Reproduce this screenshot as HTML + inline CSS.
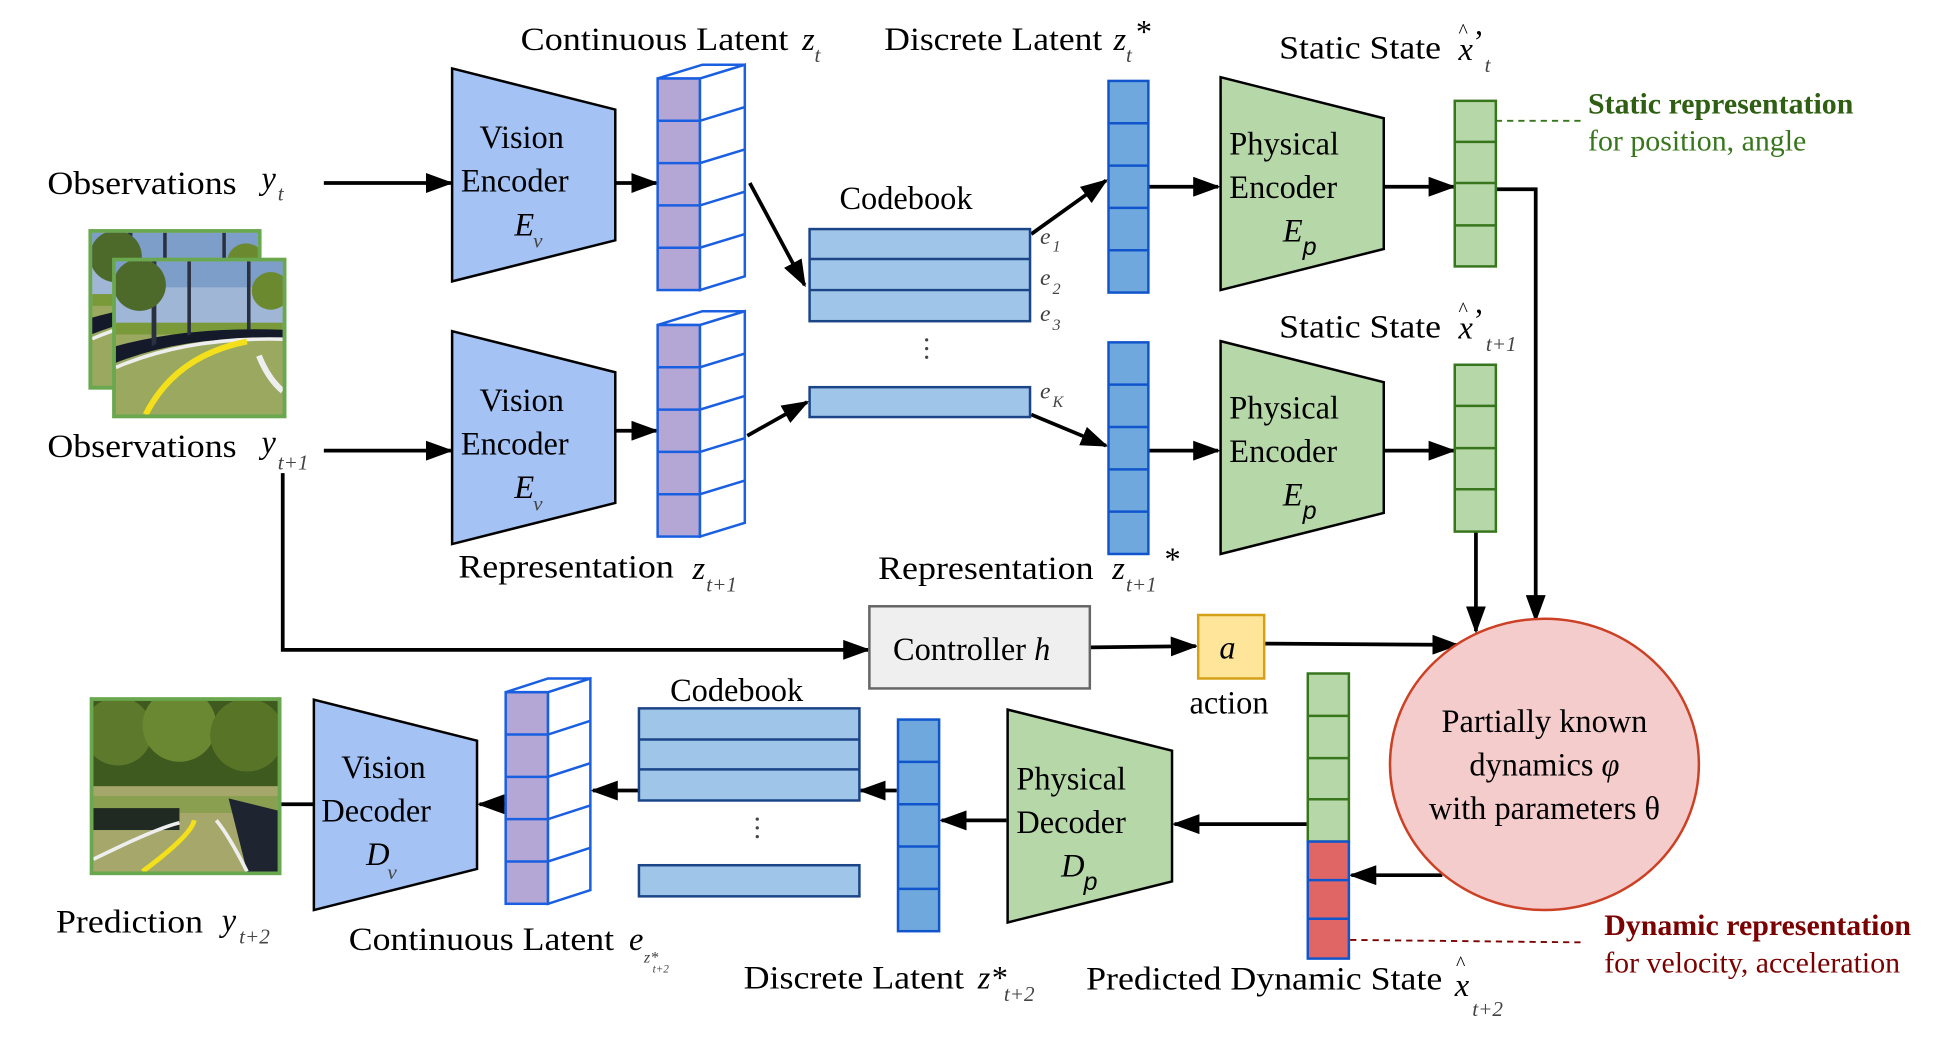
<!DOCTYPE html>
<html><head><meta charset="utf-8"><style>
html,body{margin:0;padding:0;background:#fff;}
svg{display:block;font-family:"Liberation Serif",serif;font-size:26px;}
.it{font-style:italic;}
.sub{font-size:17px;font-style:italic;fill:#444;}
</style></head><body>
<svg width="1943" height="1042" viewBox="0 0 1560 837" preserveAspectRatio="none" xmlns="http://www.w3.org/2000/svg">
<defs>
<marker id="ar" markerWidth="22" markerHeight="16" refX="20" refY="8" orient="auto" markerUnits="userSpaceOnUse"><path d="M0,0 L22,8 L0,16 z" fill="#000"/></marker>
<symbol id="road" viewBox="0 0 140 130">
<rect width="140" height="130" fill="#9aa860"/>
<rect width="140" height="60" fill="#9fb6d6"/>
<rect y="0" width="140" height="22" fill="#7d9ec8"/>
<rect y="52" width="140" height="10" fill="#7a9a3a"/>
<path d="M0,72 Q60,55 140,58 L140,66 Q60,62 0,86z" fill="#141a2a"/>
<path d="M30,0 L34,0 L34,70 L30,72z M60,0 L63,0 L63,62 L60,63z M110,0 L113,0 L113,58 L110,58z" fill="#2b3040"/>
<circle cx="20" cy="20" r="22" fill="#4d6a2a"/><circle cx="130" cy="25" r="16" fill="#6b8a30"/>
<path d="M0,90 Q60,64 140,66" stroke="#eee" stroke-width="3" fill="none"/>
<path d="M25,130 Q50,80 110,68" stroke="#f4e01a" stroke-width="5" fill="none"/>
<path d="M120,80 Q128,100 140,110" stroke="#eee" stroke-width="5" fill="none"/>
</symbol>
<symbol id="road2" viewBox="0 0 150 140">
<rect width="150" height="140" fill="#a5a86a"/>
<rect width="150" height="70" fill="#3e5a1e"/>
<circle cx="20" cy="25" r="28" fill="#5d7a2c"/><circle cx="70" cy="20" r="30" fill="#6a8832"/><circle cx="125" cy="28" r="30" fill="#587426"/>
<rect y="78" width="150" height="14" fill="#8aa050"/>
<rect x="0" y="88" width="70" height="18" fill="#202a22"/><path d="M110,80 L150,90 L150,140 L125,140z" fill="#1e2530"/>
<path d="M0,130 Q50,105 70,100" stroke="#eee" stroke-width="3" fill="none"/>
<path d="M40,140 Q80,110 82,98" stroke="#f4e01a" stroke-width="4" fill="none"/>
<path d="M125,140 Q110,110 100,98" stroke="#eee" stroke-width="3" fill="none"/>
</symbol>
</defs>

<!-- top labels -->
<text x="418" y="40" textLength="215" lengthAdjust="spacingAndGlyphs">Continuous Latent</text><text x="644" y="40" class="it">z</text><text x="654" y="50" class="sub">t</text>
<text x="710" y="40" textLength="175" lengthAdjust="spacingAndGlyphs">Discrete Latent</text><text x="894" y="40" class="it">z</text><text x="904" y="50" class="sub">t</text><text x="912" y="34">*</text>
<text x="1027" y="47" textLength="130" lengthAdjust="spacingAndGlyphs">Static State</text><text x="1171" y="30" font-size="16">^</text><text x="1171" y="48" class="it">x</text><text x="1183" y="42">’</text><text x="1192" y="58" class="sub">t</text>
<text x="1027" y="271" textLength="130" lengthAdjust="spacingAndGlyphs">Static State</text><text x="1171" y="254" font-size="16">^</text><text x="1171" y="272" class="it">x</text><text x="1183" y="266">’</text><text x="1193" y="282" class="sub">t+1</text>

<text x="38" y="156" textLength="152" lengthAdjust="spacingAndGlyphs">Observations</text><text x="210" y="152" class="it">y</text><text x="223" y="161" class="sub">t</text>
<text x="38" y="367" textLength="152" lengthAdjust="spacingAndGlyphs">Observations</text><text x="210" y="364" class="it">y</text><text x="223" y="377" class="sub">t+1</text>

<!-- images -->
<rect x="71" y="184" width="139" height="129" fill="#6aa84f"/><svg x="74" y="187" width="133" height="123" viewBox="0 0 140 130" preserveAspectRatio="none"><use href="#road"/></svg>
<rect x="90" y="207" width="140" height="129" fill="#6aa84f"/><svg x="93" y="210" width="134" height="123" viewBox="0 0 140 130" preserveAspectRatio="none"><use href="#road"/></svg>

<!-- arrows -->
<g stroke="#000" stroke-width="3" fill="none" marker-end="url(#ar)">
<line x1="260" y1="147" x2="362" y2="147"/>
<line x1="494" y1="147" x2="527" y2="147"/>
<line x1="602" y1="147" x2="646" y2="229"/>
<line x1="828" y1="188" x2="888" y2="145"/>
<line x1="922" y1="150" x2="978" y2="150"/>
<line x1="1111" y1="150" x2="1167" y2="150"/>
<line x1="260" y1="362" x2="362" y2="362"/>
<line x1="494" y1="346" x2="527" y2="346"/>
<line x1="600" y1="350" x2="648" y2="323"/>
<line x1="828" y1="333" x2="888" y2="358"/>
<line x1="922" y1="362" x2="978" y2="362"/>
<line x1="1111" y1="362" x2="1167" y2="362"/>
<polyline points="1201,152 1233,152 1233,498"/>
<polyline points="1185,427 1185,507"/>
<polyline points="227,380 227,522 697,522"/>
<line x1="875" y1="520" x2="960" y2="519"/>
<line x1="1015" y1="517" x2="1170" y2="518"/>
<line x1="1158" y1="703" x2="1085" y2="703"/>
<line x1="1049" y1="662" x2="943" y2="662"/>
<line x1="808" y1="659" x2="756" y2="659"/>
<line x1="720" y1="635" x2="691" y2="635"/>
<line x1="513" y1="635" x2="476" y2="635"/>
<line x1="405" y1="646" x2="385" y2="646"/>
</g>
<line x1="225" y1="646" x2="252" y2="646" stroke="#000" stroke-width="3"/>

<!-- vision encoders -->
<g fill="#a4c2f4" stroke="#000" stroke-width="2">
<polygon points="363,55 494,88 494,193 363,226"/>
<polygon points="363,266 494,299 494,404 363,437"/>
<polygon points="252,562 383,595 383,698 252,731"/>
</g>
<text x="385" y="119">Vision</text><text x="370" y="154">Encoder</text><text x="413" y="189" class="it">E</text><text x="428" y="199" class="sub">v</text>
<text x="385" y="330">Vision</text><text x="370" y="365">Encoder</text><text x="413" y="400" class="it">E</text><text x="428" y="410" class="sub">v</text>
<text x="274" y="625">Vision</text><text x="258" y="660">Decoder</text><text x="294" y="695" class="it">D</text><text x="311" y="706" class="sub">v</text>

<!-- physical encoders -->
<g fill="#b6d7a8" stroke="#000" stroke-width="2">
<polygon points="980,62 1111,95 1111,200 980,233"/>
<polygon points="980,274 1111,307 1111,412 980,445"/>
<polygon points="809,570 941,603 941,708 809,741"/>
</g>
<text x="987" y="124">Physical</text><text x="987" y="159">Encoder</text><text x="1030" y="194" class="it">E</text><text x="1046" y="205" font-size="20" font-family="Liberation Sans" font-style="italic">p</text>
<text x="987" y="336">Physical</text><text x="987" y="371">Encoder</text><text x="1030" y="406" class="it">E</text><text x="1046" y="417" font-size="20" font-family="Liberation Sans" font-style="italic">p</text>
<text x="816" y="634">Physical</text><text x="816" y="669">Decoder</text><text x="852" y="704" class="it">D</text><text x="870" y="715" font-size="20" font-family="Liberation Sans" font-style="italic">p</text>

<!-- continuous latent columns -->
<g stroke="#1a5fe0" stroke-width="2">
<g fill="#b4a7d6"><rect x="528" y="63" width="34" height="170"/><rect x="528" y="261" width="34" height="170"/><rect x="406" y="556" width="34" height="170"/></g>
<g fill="#fff">
<polygon points="562,63 598,52 598,222 562,233"/><polygon points="528,63 562,63 598,52 564,52"/>
<polygon points="562,261 598,250 598,420 562,431"/><polygon points="528,261 562,261 598,250 564,250"/>
<polygon points="440,556 474,545 474,715 440,726"/><polygon points="406,556 440,556 474,545 440,545"/>
</g>
<path d="M528,97H562L598,86 M528,131H562L598,120 M528,165H562L598,154 M528,199H562L598,188" fill="none"/>
<path d="M528,295H562L598,284 M528,329H562L598,318 M528,363H562L598,352 M528,397H562L598,386" fill="none"/>
<path d="M406,590H440L474,579 M406,624H440L474,613 M406,658H440L474,647 M406,692H440L474,681" fill="none"/>
</g>

<!-- codebooks -->
<g fill="#9fc5e8" stroke="#1c4587" stroke-width="2">
<rect x="650" y="184" width="177" height="74"/><rect x="650" y="311" width="177" height="24"/>
<rect x="513" y="569" width="177" height="74"/><rect x="513" y="695" width="177" height="25"/>
</g>
<path d="M650,208H827 M650,233H827 M513,594H690 M513,618H690" stroke="#1c4587" stroke-width="2"/>
<text x="674" y="168">Codebook</text><text x="538" y="563">Codebook</text>
<g fill="#444"><circle cx="744" cy="273" r="1.3"/><circle cx="744" cy="280" r="1.3"/><circle cx="744" cy="287" r="1.3"/>
<circle cx="608" cy="658" r="1.3"/><circle cx="608" cy="665" r="1.3"/><circle cx="608" cy="672" r="1.3"/></g>
<g font-style="italic" fill="#444">
<text x="835" y="196" font-size="19">e</text><text x="845" y="202" font-size="13">1</text>
<text x="835" y="229" font-size="19">e</text><text x="845" y="236" font-size="13">2</text>
<text x="835" y="258" font-size="19">e</text><text x="845" y="265" font-size="13">3</text>
<text x="835" y="320" font-size="19">e</text><text x="845" y="327" font-size="13">K</text></g>

<!-- discrete columns -->
<g fill="#6fa8dc" stroke="#1155cc" stroke-width="2">
<rect x="890" y="65" width="32" height="170"/><rect x="890" y="275" width="32" height="170"/><rect x="721" y="578" width="33" height="170"/>
</g>
<path d="M890,99H922 M890,133H922 M890,167H922 M890,201H922 M890,309H922 M890,343H922 M890,377H922 M890,411H922 M721,612H754 M721,646H754 M721,680H754 M721,714H754" stroke="#1155cc" stroke-width="2"/>

<!-- static columns -->
<g fill="#b6d7a8" stroke="#38761d" stroke-width="2">
<rect x="1168" y="81" width="33" height="133"/><rect x="1168" y="293" width="33" height="134"/>
<rect x="1050" y="541" width="33" height="135"/>
</g>
<path d="M1168,114H1201 M1168,147H1201 M1168,181H1201 M1168,326H1201 M1168,360H1201 M1168,393H1201 M1050,575H1083 M1050,609H1083 M1050,642H1083" stroke="#38761d" stroke-width="2"/>
<rect x="1050" y="676" width="33" height="94" fill="#e06666" stroke="#1155cc" stroke-width="2"/>
<path d="M1050,707H1083 M1050,738H1083" stroke="#1155cc" stroke-width="2"/>

<line x1="1201" y1="97" x2="1272" y2="97" stroke="#38761d" stroke-width="1.5" stroke-dasharray="5,4"/>
<text x="1275" y="91" font-weight="bold" fill="#2f5f13" font-size="24">Static representation</text>
<text x="1275" y="121" font-size="24" fill="#38761d">for position, angle</text>
<line x1="1084" y1="755" x2="1272" y2="757" stroke="#7b0000" stroke-width="1.5" stroke-dasharray="5,4"/>
<text x="1288" y="751" font-weight="bold" font-size="24" fill="#7b0000">Dynamic representation</text>
<text x="1288" y="781" font-size="24" fill="#7b0000">for velocity, acceleration</text>

<!-- representation labels -->
<text x="368" y="464" textLength="173" lengthAdjust="spacingAndGlyphs">Representation</text><text x="556" y="465" class="it">z</text><text x="567" y="475" class="sub">t+1</text>
<text x="705" y="465" textLength="173" lengthAdjust="spacingAndGlyphs">Representation</text><text x="893" y="465" class="it">z</text><text x="904" y="475" class="sub">t+1</text><text x="935" y="458">*</text>

<!-- controller / action -->
<rect x="698" y="487" width="177" height="66" fill="#efefef" stroke="#666" stroke-width="2"/>
<text x="717" y="530">Controller <tspan font-style="italic">h</tspan></text>
<rect x="962" y="494" width="53" height="51" fill="#ffe599" stroke="#d4a017" stroke-width="2"/>
<text x="979" y="529" class="it">a</text>
<text x="955" y="573">action</text>

<!-- ellipse -->
<ellipse cx="1240" cy="614" rx="124" ry="117" fill="#f4cccc" stroke="#cc4125" stroke-width="2"/>
<text x="1240" y="588" text-anchor="middle">Partially known</text>
<text x="1240" y="623" text-anchor="middle">dynamics <tspan font-style="italic">φ</tspan></text>
<text x="1240" y="658" text-anchor="middle">with parameters θ</text>

<!-- prediction image -->
<rect x="72" y="560" width="154" height="143" fill="#6aa84f"/><svg x="75" y="563" width="148" height="137" viewBox="0 0 150 140" preserveAspectRatio="none"><use href="#road2"/></svg>

<!-- bottom labels -->
<text x="45" y="749" textLength="118" lengthAdjust="spacingAndGlyphs">Prediction</text><text x="178" y="748" class="it">y</text><text x="192" y="758" class="sub">t+2</text>
<text x="280" y="763" textLength="213" lengthAdjust="spacingAndGlyphs">Continuous Latent</text><text x="505" y="763" class="it">e</text><text x="517" y="773" font-size="13" font-style="italic" fill="#444">z*</text><text x="524" y="781" font-size="9" font-style="italic" fill="#444">t+2</text>
<text x="597" y="794" textLength="177" lengthAdjust="spacingAndGlyphs">Discrete Latent</text><text x="785" y="794" class="it">z*</text><text x="806" y="804" class="sub">t+2</text>
<text x="872" y="795" textLength="286" lengthAdjust="spacingAndGlyphs">Predicted Dynamic State</text><text x="1169" y="779" font-size="16">^</text><text x="1168" y="800" class="it">x</text><text x="1182" y="816" class="sub">t+2</text>
</svg>
</body></html>
